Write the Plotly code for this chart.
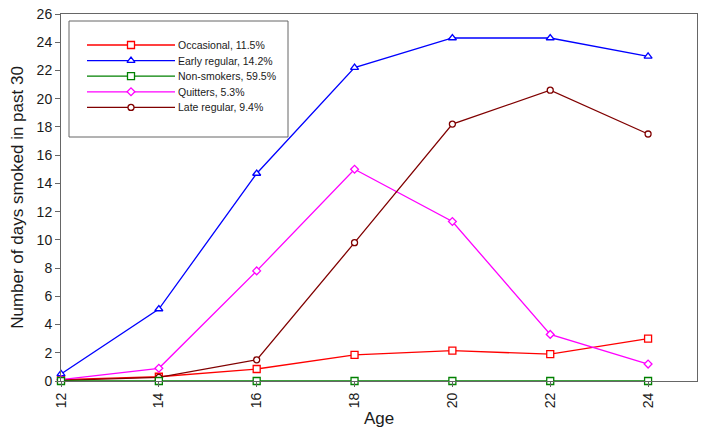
import plotly.graph_objects as go

ages = [12, 14, 16, 18, 20, 22, 24]
occasional = [0.1, 0.3, 0.85, 1.85, 2.15, 1.9, 3.0]
early_regular = [0.5, 5.1, 14.7, 22.2, 24.3, 24.3, 23.0]
non_smokers = [0, 0, 0, 0, 0, 0, 0]
quitters = [0.1, 0.9, 7.8, 15.0, 11.3, 3.3, 1.2]
late_regular = [0.05, 0.25, 1.5, 9.8, 18.2, 20.6, 17.5]

names = ["Occasional, 11.5%", "Early regular, 14.2%", "Non-smokers, 59.5%",
         "Quitters, 5.3%", "Late regular, 9.4%"]
series = [occasional, early_regular, non_smokers, quitters, late_regular]
colors = ["#FF0000", "#0000FF", "#008000", "#FF00FF", "#800000"]
symbols = ["square", "triangle-up", "square", "diamond", "circle"]
sizes = [7, 7, 7, 6, 6]

FONT = "Liberation Sans, Arial, sans-serif"
fig = go.Figure()

order = [0, 1, 3, 4, 2]
for i in order:
    fig.add_trace(go.Scatter(
        x=ages, y=series[i], mode="lines+markers", name=names[i],
        line=dict(color=colors[i], width=1.3),
        marker=dict(symbol=symbols[i], size=sizes[i], color="white",
                    line=dict(width=1.3, color=colors[i])),
        showlegend=False, cliponaxis=False))

# manual legend on an overlay axis measured in plot-area pixels
row0, dy = 31, 15.6
for k in range(5):
    yy = row0 + k * dy
    fig.add_trace(go.Scatter(
        x=[26, 70, 114], y=[yy, yy, yy], xaxis="x2", yaxis="y2",
        mode="lines", line=dict(color=colors[k], width=1.3),
        showlegend=False, hoverinfo="skip"))
    fig.add_trace(go.Scatter(
        x=[70], y=[yy], xaxis="x2", yaxis="y2", mode="markers",
        marker=dict(symbol=symbols[k], size=sizes[k], color="white",
                    line=dict(width=1.3, color=colors[k])),
        showlegend=False, hoverinfo="skip"))
    fig.add_annotation(x=115, y=yy, xref="x2", yref="y2", text=names[k],
                       showarrow=False, xanchor="left", yanchor="middle",
                       font=dict(family=FONT, size=10.5, color="#1a1a1a"))

fig.add_shape(type="rect", xref="x2", yref="y2", x0=8, x1=227, y0=7, y1=123,
              line=dict(color="#666666", width=1), fillcolor="rgba(0,0,0,0)")

fig.update_layout(
    width=704, height=434,
    margin=dict(l=61, r=7, t=14, b=53, autoexpand=False),
    plot_bgcolor="white", paper_bgcolor="white",
    font=dict(family=FONT, size=14, color="#1a1a1a"),
    xaxis=dict(range=[12, 25], tickvals=ages, ticktext=[str(a) for a in ages],
               tickangle=-90, ticks="outside", ticklen=5, tickcolor="#666666",
               showline=True, linecolor="#666666", mirror=True, showgrid=False,
               zeroline=False, automargin=False, title=dict(text="Age", standoff=4),
               tickfont=dict(size=14)),
    yaxis=dict(range=[0, 26], dtick=2, ticks="outside", ticklen=5, tickcolor="#666666",
               showline=True, linecolor="#666666", mirror=True, showgrid=False,
               zeroline=False, automargin=False,
               title=dict(text="Number of days smoked in past 30", standoff=8),
               tickfont=dict(size=14)),
    xaxis2=dict(overlaying="x", range=[0, 636], visible=False, anchor="y2"),
    yaxis2=dict(overlaying="y", range=[367, 0], visible=False, anchor="x2"),
)

fig.write_html("out.html", config={"displayModeBar": False},
               post_script="document.body.style.margin='0';document.body.style.overflow='hidden';")
